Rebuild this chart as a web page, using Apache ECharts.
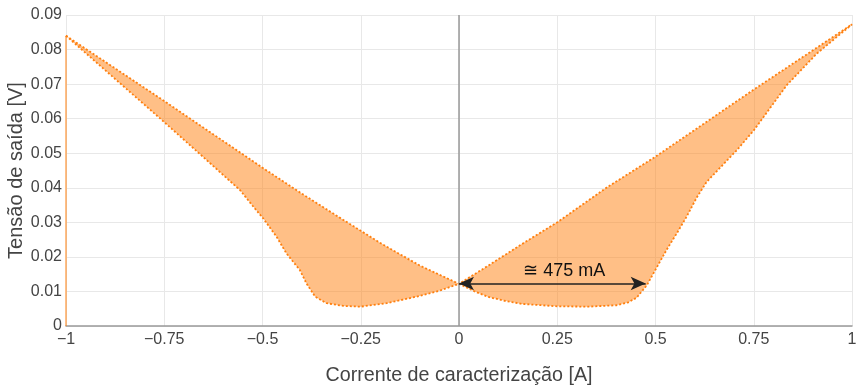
<!DOCTYPE html>
<html>
<head>
<meta charset="utf-8">
<script src="https://cdn.jsdelivr.net/npm/echarts@6/dist/echarts.min.js"></script>
<style>html,body{margin:0;padding:0;background:#fff;}#c{width:858px;height:389px;}</style>
</head>
<body>
<div id="c"></div>
<script>
var upperX = [-1, -0.75, -0.5, -0.4, -0.3, -0.2, -0.1, 0, 0.075, 0.16, 0.25, 0.375, 0.5, 0.75, 1];
var upperY = [0.0840, 0.0651, 0.0458, 0.0383, 0.0311, 0.0240, 0.0175, 0.0122, 0.0175, 0.0237, 0.0300, 0.0400, 0.0490, 0.0684, 0.0873];

var lowerX = [-1, -0.75, -0.642, -0.557, -0.523, -0.498, -0.464, -0.439, -0.405, -0.388, -0.366, -0.337, -0.294, -0.25, -0.184, -0.108, -0.05, 0,
              0.04, 0.075, 0.12, 0.16, 0.25, 0.33, 0.40, 0.43, 0.452, 0.478, 0.502, 0.528, 0.554, 0.579, 0.605, 0.63, 0.707, 0.75, 0.834, 0.91, 1];
var lowerY = [0.0840, 0.0590, 0.0480, 0.0393, 0.0345, 0.0311, 0.0258, 0.0210, 0.0162, 0.0123, 0.0085, 0.0066, 0.0058, 0.0056, 0.0066, 0.0085, 0.0102, 0.0122,
              0.0100, 0.0084, 0.0072, 0.0064, 0.0057, 0.0056, 0.0060, 0.0068, 0.0082, 0.0118, 0.0167, 0.0220, 0.0268, 0.0316, 0.0372, 0.0417, 0.0509, 0.0566, 0.0697, 0.0788, 0.0873];

var edgeX = [-1, -1];
var edgeY = [0, 0.0840];

var arrowX = [0, 0.475];
var arrowY = [0.0123, 0.0123];
var annotationText = '≅ 475 mA';

var xTicks = [-1, -0.75, -0.5, -0.25, 0, 0.25, 0.5, 0.75, 1];
var yTicks = [0, 0.01, 0.02, 0.03, 0.04, 0.05, 0.06, 0.07, 0.08, 0.09];

function zip(a, b) { return a.map(function (v, i) { return [v, b[i]]; }); }
function fmtX(v) {
  var s = String(Math.round(v * 100) / 100);
  return s.replace('-', '\u2212');
}

var FONT = "'Liberation Sans', Arial, sans-serif";
var chart = echarts.init(document.getElementById('c'), null, { renderer: 'canvas' });
chart.setOption({
  animation: false,
  grid: { left: 66, right: 6, top: 15, bottom: 63, containLabel: false, outerBoundsMode: 'none' },
  xAxis: {
    type: 'value', min: -1, max: 1, interval: 0.25,
    name: 'Corrente de caracterização [A]', nameLocation: 'middle', nameGap: 40, nameMoveOverlap: false,
    nameTextStyle: { fontFamily: FONT, fontSize: 19.7, color: '#444' },
    axisLine: { show: true, onZero: false, lineStyle: { color: '#999', width: 1.5 } },
    axisTick: { show: false },
    axisLabel: { fontFamily: FONT, fontSize: 16, color: '#444', margin: 6, formatter: fmtX },
    splitLine: { show: true, lineStyle: { color: '#e8e8e8', width: 1 } }
  },
  yAxis: {
    type: 'value', min: 0, max: 0.09, interval: 0.01,
    name: 'Tensão de saída [V]', nameLocation: 'middle', nameGap: 40, nameRotate: 90, nameMoveOverlap: false,
    nameTextStyle: { fontFamily: FONT, fontSize: 20, color: '#444' },
    axisLine: { show: false },
    axisTick: { show: false },
    axisLabel: { fontFamily: FONT, fontSize: 16, color: '#444', margin: 4,
      formatter: function (v) { return String(Math.round(v * 100) / 100); } },
    splitLine: { show: true, lineStyle: { color: '#e8e8e8', width: 1 } }
  },
  series: [
    {
      type: 'custom', silent: true, z: 1,
      data: [[0, 0]],
      renderItem: function (params, api) {
        var pts = [];
        for (var i = 0; i < upperX.length; i++) pts.push(api.coord([upperX[i], upperY[i]]));
        for (var j = lowerX.length - 1; j >= 0; j--) pts.push(api.coord([lowerX[j], lowerY[j]]));
        return { type: 'polygon', shape: { points: pts }, style: { fill: 'rgba(255,127,14,0.5)' } };
      }
    },
    {
      type: 'line', z: 3, data: zip(edgeX, edgeY), showSymbol: false, silent: true,
      lineStyle: { color: 'rgba(255,127,14,0.5)', width: 2 }
    },
    {
      type: 'line', z: 4, data: zip(upperX, upperY), showSymbol: false, silent: true,
      lineStyle: { color: '#ff7f0e', width: 1.8, type: [2, 2] },
      markLine: {
        silent: true, symbol: ['none', 'none'], animation: false,
        lineStyle: { color: '#999', width: 1.5, type: 'solid' },
        label: { show: false },
        data: [{ xAxis: 0 }]
      }
    },
    {
      type: 'line', z: 4, data: zip(lowerX, lowerY), showSymbol: false, silent: true,
      lineStyle: { color: '#ff7f0e', width: 1.8, type: [2, 2] },
      markLine: {
        silent: true, animation: false, z: 6,
        symbol: ['arrow', 'arrow'], symbolSize: [10, 15],
        lineStyle: { color: '#222', width: 1.5, type: 'solid' },
        label: {
          show: true, position: 'insideMiddleTop', formatter: annotationText,
          fontFamily: FONT, fontSize: 18, color: '#111', distance: 3, padding: [0, 0, 0, 24]
        },
        data: [[{ coord: [arrowX[0], arrowY[0]] }, { coord: [arrowX[1], arrowY[1]] }]]
      }
    }
  ]
});
</script>
</body>
</html>
